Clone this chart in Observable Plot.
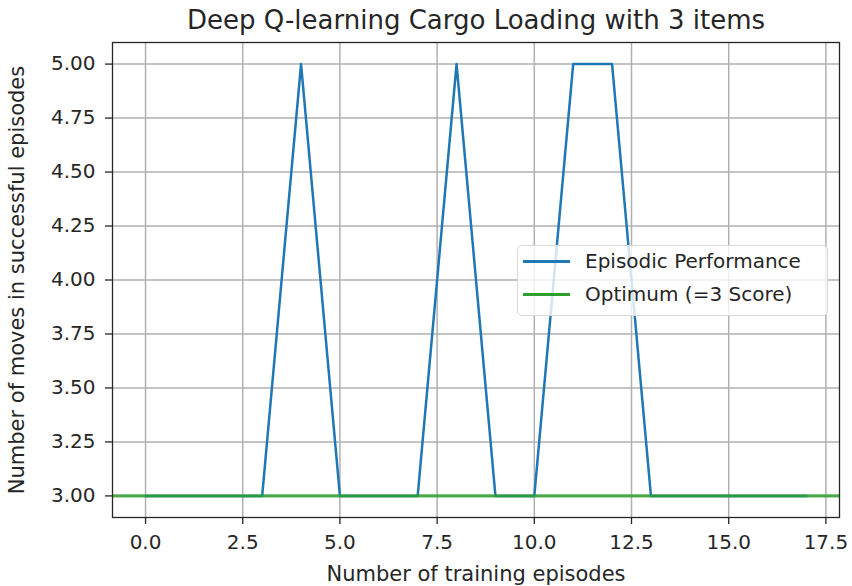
<!DOCTYPE html>
<html><head><meta charset="utf-8">
<script src="https://cdn.jsdelivr.net/npm/d3@7"></script>
<script src="https://cdn.jsdelivr.net/npm/@observablehq/plot@0.6"></script>
<style>
body{margin:0;background:#fff;font-family:"DejaVu Sans",sans-serif;}
#wrap{position:relative;width:852px;height:586px;}
#wrap svg{display:block;}
#legend{position:absolute;left:517px;top:245px;width:311px;height:71px;border:1px solid #d9d9d9;border-radius:5px;background:rgba(255,255,255,0.8);font-family:"DejaVu Sans",sans-serif;font-size:20px;color:#262626;box-sizing:border-box;}
.row{position:absolute;left:0;height:24px;display:flex;align-items:center;white-space:nowrap;}
.sw{width:47px;height:3px;margin-left:5px;margin-right:15px;}
</style>
</head><body>
<div id="wrap"></div>
<script>
const title = "Deep Q-learning Cargo Loading with 3 items";
const xLabel = "Number of training episodes";
const yLabel = "Number of moves in successful episodes";
const episodes = [0,1,2,3,4,5,6,7,8,9,10,11,12,13,14,15,16,17];
const moves =    [3,3,3,3,5,3,3,3,5,3,3,5,5,3,3,3,3,3];
const optimum = [3];
const seriesNames = ["Episodic Performance", "Optimum (=3 Score)"];
const seriesColors = ["#1f77b4", "#2ca02c"];
const xTicks = [0,2.5,5,7.5,10,12.5,15,17.5];
const yTicks = [3,3.25,3.5,3.75,4,4.25,4.5,4.75,5];

const data = episodes.map((e,i)=>({episode:e, moves:moves[i]}));

const chart = Plot.plot({
  width: 852, height: 586,
  marginLeft: 112, marginRight: 13, marginTop: 42, marginBottom: 69,
  style: {fontFamily: "DejaVu Sans, sans-serif", fontSize: "20px", color: "#262626", background: "#fff", overflow: "visible"},
  x: {domain: [-0.85, 17.85]},
  y: {domain: [2.9, 5.1]},
  marks: [
    Plot.gridX(xTicks, {stroke: "#b0b0b0", strokeOpacity: 1, strokeWidth: 1.5}),
    Plot.gridY(yTicks, {stroke: "#b0b0b0", strokeOpacity: 1, strokeWidth: 1.5}),
    Plot.line(data, {x: "episode", y: "moves", stroke: seriesColors[0], strokeWidth: 2.5}),
    Plot.ruleY(optimum, {stroke: seriesColors[1], strokeWidth: 3.3, strokeOpacity: 0.8}),
    Plot.frame({stroke: "#262626", strokeWidth: 1.3}),
    Plot.axisX({ticks: xTicks, tickFormat: d3.format(".1f"), label: null, tickSize: 7, tickPadding: 10, stroke: "#262626", strokeWidth: 1.3, fontSize: 20, fill: "#262626"}),
    Plot.axisY({ticks: yTicks, tickFormat: d3.format(".2f"), label: null, tickSize: 7, tickPadding: 10, stroke: "#262626", strokeWidth: 1.3, fontSize: 20, fill: "#262626"}),
    Plot.text([title], {frameAnchor: "top", lineAnchor: "middle", dy: -22, fontSize: 26, fill: "#262626"}),
    Plot.text([xLabel], {frameAnchor: "bottom", lineAnchor: "middle", dy: 57, fontSize: 21, fill: "#262626"}),
    Plot.text([yLabel], {frameAnchor: "left", textAnchor: "middle", lineAnchor: "middle", dx: -95, rotate: -90, fontSize: 21, fill: "#262626"})
  ]
});
const wrap = document.getElementById("wrap");
wrap.appendChild(chart);
const lg = document.createElement("div");
lg.id = "legend";
seriesNames.forEach((n,i)=>{
  const r = document.createElement("div");
  r.className = "row";
  r.style.top = (i===0 ? 3 : 36) + "px";
  const s = document.createElement("div");
  s.className = "sw"; s.style.background = seriesColors[i];
  const t = document.createElement("span");
  t.textContent = n;
  r.appendChild(s); r.appendChild(t);
  lg.appendChild(r);
});
wrap.appendChild(lg);
</script>
</body></html>
